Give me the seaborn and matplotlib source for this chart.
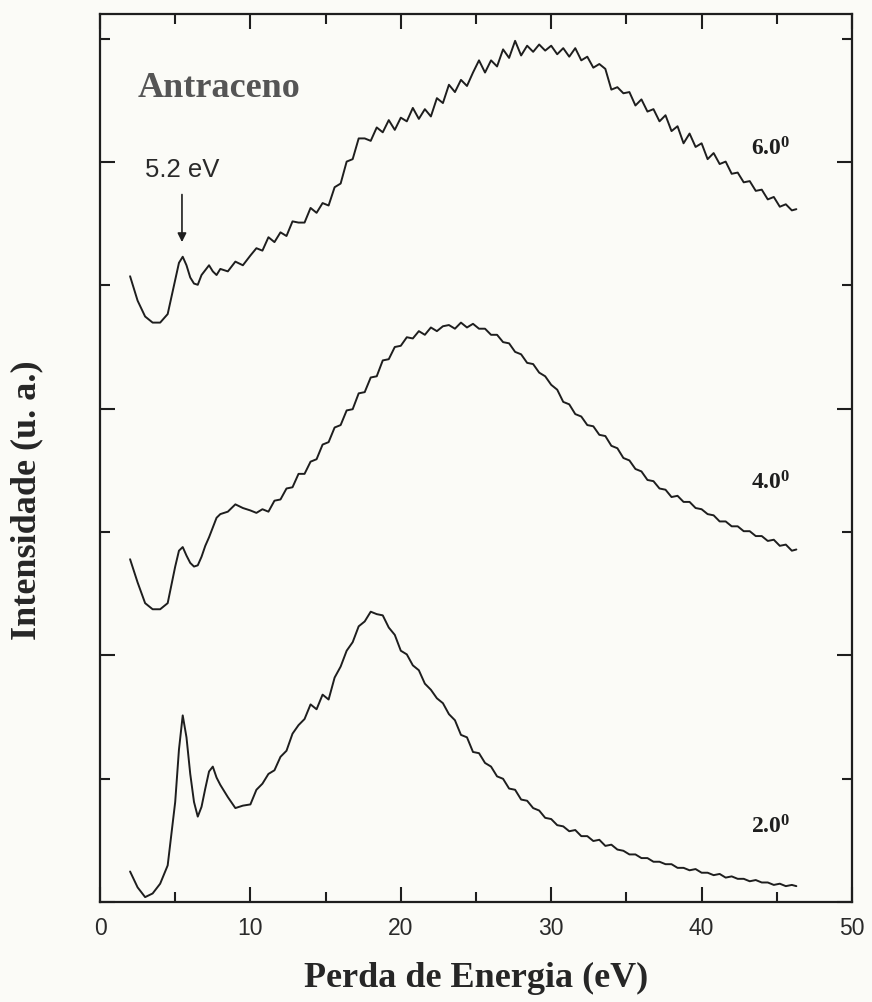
import numpy as np
import pandas as pd
import matplotlib
matplotlib.use("Agg")
import matplotlib.pyplot as plt
from matplotlib.ticker import MultipleLocator
import seaborn as sns

# Energy-loss grid (eV): dense around the 5.2 eV feature, 0.4 eV steps above 10 eV
energia_baixa = [2.0, 2.5, 3.0, 3.5, 4.0, 4.5, 5.0, 5.25, 5.5, 5.75, 6.0, 6.25,
                 6.5, 6.75, 7.0, 7.25, 7.5, 7.75, 8.0, 8.5, 9.0, 9.5, 10.0]
energia_alta = [10.4, 10.8, 11.2, 11.6, 12.0, 12.4, 12.8, 13.2, 13.6, 14.0, 14.4, 14.8,
                15.2, 15.6, 16.0, 16.4, 16.8, 17.2, 17.6, 18.0, 18.4, 18.8, 19.2, 19.6,
                20.0, 20.4, 20.8, 21.2, 21.6, 22.0, 22.4, 22.8, 23.2, 23.6, 24.0, 24.4,
                24.8, 25.2, 25.6, 26.0, 26.4, 26.8, 27.2, 27.6, 28.0, 28.4, 28.8, 29.2,
                29.6, 30.0, 30.4, 30.8, 31.2, 31.6, 32.0, 32.4, 32.8, 33.2, 33.6, 34.0,
                34.4, 34.8, 35.2, 35.6, 36.0, 36.4, 36.8, 37.2, 37.6, 38.0, 38.4, 38.8,
                39.2, 39.6, 40.0, 40.4, 40.8, 41.2, 41.6, 42.0, 42.4, 42.8, 43.2, 43.6,
                44.0, 44.4, 44.8, 45.2, 45.6, 46.0, 46.3]
energia = energia_baixa + energia_alta

# Offset spectra (arbitrary units), one per scattering angle
intens_6 = [5.13, 4.93, 4.80, 4.75, 4.75, 4.82, 5.10, 5.24, 5.29, 5.22, 5.12, 5.07,
            5.06, 5.14, 5.18, 5.22, 5.17, 5.14, 5.19, 5.17, 5.25, 5.22, 5.30,
            5.36, 5.34, 5.45, 5.41, 5.49, 5.46, 5.58, 5.57, 5.57, 5.69, 5.65, 5.73,
            5.71, 5.86, 5.89, 6.07, 6.09, 6.26, 6.26, 6.24, 6.35, 6.31, 6.41, 6.33,
            6.43, 6.40, 6.51, 6.42, 6.50, 6.44, 6.59, 6.55, 6.70, 6.64, 6.74, 6.69,
            6.80, 6.90, 6.80, 6.90, 6.85, 6.99, 6.92, 7.06, 6.94, 7.02, 6.97, 7.03,
            6.98, 7.02, 6.95, 7.00, 6.93, 7.00, 6.90, 6.93, 6.84, 6.87, 6.83, 6.66,
            6.68, 6.63, 6.64, 6.53, 6.58, 6.48, 6.50, 6.40, 6.45, 6.32, 6.36, 6.22,
            6.30, 6.19, 6.22, 6.09, 6.14, 6.05, 6.07, 5.97, 5.98, 5.90, 5.91, 5.83,
            5.84, 5.76, 5.78, 5.70, 5.72, 5.67, 5.68]

intens_4 = [2.81, 2.62, 2.45, 2.40, 2.40, 2.45, 2.75, 2.88, 2.91, 2.84, 2.78, 2.75,
            2.76, 2.83, 2.92, 2.99, 3.07, 3.15, 3.18, 3.20, 3.26, 3.23, 3.21,
            3.19, 3.22, 3.20, 3.29, 3.30, 3.39, 3.40, 3.51, 3.51, 3.61, 3.63, 3.75,
            3.77, 3.89, 3.91, 4.03, 4.04, 4.17, 4.18, 4.30, 4.31, 4.44, 4.45, 4.55,
            4.56, 4.63, 4.62, 4.68, 4.65, 4.71, 4.68, 4.72, 4.73, 4.70, 4.75, 4.71,
            4.74, 4.70, 4.70, 4.65, 4.65, 4.59, 4.58, 4.51, 4.49, 4.42, 4.41, 4.34,
            4.31, 4.24, 4.20, 4.10, 4.08, 4.00, 3.98, 3.91, 3.90, 3.83, 3.82, 3.74,
            3.72, 3.64, 3.62, 3.55, 3.53, 3.46, 3.45, 3.39, 3.38, 3.32, 3.33, 3.28,
            3.28, 3.23, 3.22, 3.18, 3.17, 3.12, 3.12, 3.08, 3.08, 3.04, 3.04, 3.00,
            3.00, 2.96, 2.97, 2.92, 2.93, 2.88, 2.89]

intens_2 = [0.25, 0.12, 0.04, 0.07, 0.15, 0.30, 0.82, 1.25, 1.53, 1.35, 1.05, 0.82,
            0.70, 0.78, 0.93, 1.07, 1.11, 1.02, 0.96, 0.86, 0.77, 0.79, 0.80,
            0.92, 0.97, 1.05, 1.08, 1.19, 1.24, 1.38, 1.45, 1.50, 1.62, 1.58, 1.70,
            1.66, 1.84, 1.93, 2.06, 2.13, 2.26, 2.30, 2.38, 2.36, 2.35, 2.25, 2.19,
            2.06, 2.03, 1.94, 1.90, 1.79, 1.74, 1.67, 1.63, 1.54, 1.49, 1.37, 1.35,
            1.23, 1.22, 1.14, 1.11, 1.03, 1.01, 0.93, 0.92, 0.84, 0.83, 0.77, 0.75,
            0.69, 0.68, 0.63, 0.62, 0.58, 0.59, 0.54, 0.54, 0.50, 0.51, 0.46, 0.47,
            0.43, 0.42, 0.39, 0.39, 0.36, 0.36, 0.33, 0.33, 0.31, 0.31, 0.28, 0.28,
            0.26, 0.27, 0.24, 0.24, 0.22, 0.23, 0.20, 0.21, 0.19, 0.19, 0.17, 0.18,
            0.16, 0.16, 0.14, 0.15, 0.13, 0.14, 0.13]

angulos = ["2.0", "4.0", "6.0"]
rotulos_y = [0.57, 3.39, 6.13]
rotulo_x = 43.3

df = pd.concat([
    pd.DataFrame({"energia": energia, "intensidade": y, "angulo": a})
    for a, y in zip(angulos, [intens_2, intens_4, intens_6])
], ignore_index=True)

sns.set_theme(style="ticks")
plt.rcParams["font.family"] = ["Liberation Sans", "DejaVu Sans"]
plt.rcParams["mathtext.fontset"] = "custom"
plt.rcParams["mathtext.rm"] = "Liberation Serif:bold"
plt.rcParams["mathtext.it"] = "Liberation Serif:bold"
plt.rcParams["mathtext.bf"] = "Liberation Serif:bold"

fundo = "#fbfbf7"
tinta = "#1e1e1e"

fig = plt.figure(figsize=(8.72, 10.03), dpi=100, facecolor=fundo)
ax = fig.add_axes([100 / 872, 1 - 903 / 1003, 752 / 872, 888 / 1003])
ax.set_facecolor(fundo)

sns.lineplot(data=df, x="energia", y="intensidade", hue="angulo",
             palette=[tinta] * 3, legend=False, sort=False, estimator=None,
             linewidth=1.4, ax=ax)

ax.set_xlim(0, 50)
ax.set_ylim(0, 7.28)

ax.xaxis.set_major_locator(MultipleLocator(10))
ax.xaxis.set_minor_locator(MultipleLocator(5))
ax.yaxis.set_major_locator(MultipleLocator(2.022))
ax.yaxis.set_minor_locator(MultipleLocator(1.011))
ax.tick_params(which="both", direction="in", top=True, right=True,
               color=tinta, width=1.5)
ax.tick_params(which="major", length=11, pad=10, labelsize=16.5, labelcolor="#2a2a2a")
ax.tick_params(which="minor", length=7)
ax.tick_params(axis="y", which="both", labelleft=False)
for s in ax.spines.values():
    s.set_linewidth(1.6)
    s.set_color(tinta)

serif_b = dict(family=["Liberation Serif", "DejaVu Serif"], weight="bold")
ax.set_xlabel("Perda de Energia (eV)", fontsize=26, color="#262626", labelpad=16, **serif_b)
ax.set_ylabel("Intensidade (u. a.)", fontsize=26, color="#262626", **serif_b)
ax.yaxis.set_label_coords(-0.076, 0.454)

ax.text(2.5, 6.61, "Antraceno", fontsize=26, color="#555555", **serif_b)

for a, yy in zip(angulos, rotulos_y):
    ax.text(rotulo_x, yy, a + r"$^{0}$", fontsize=17, color=tinta, **serif_b)

ax.text(3.0, 5.95, "5.2 eV", fontsize=18.5, color="#2a2a2a")
ax.annotate("", xy=(5.45, 5.41), xytext=(5.45, 5.80),
            arrowprops=dict(arrowstyle="-|>", color=tinta, lw=1.2,
                            mutation_scale=13, shrinkA=0, shrinkB=0))

fig.savefig("out.png", dpi=100, facecolor=fundo)
